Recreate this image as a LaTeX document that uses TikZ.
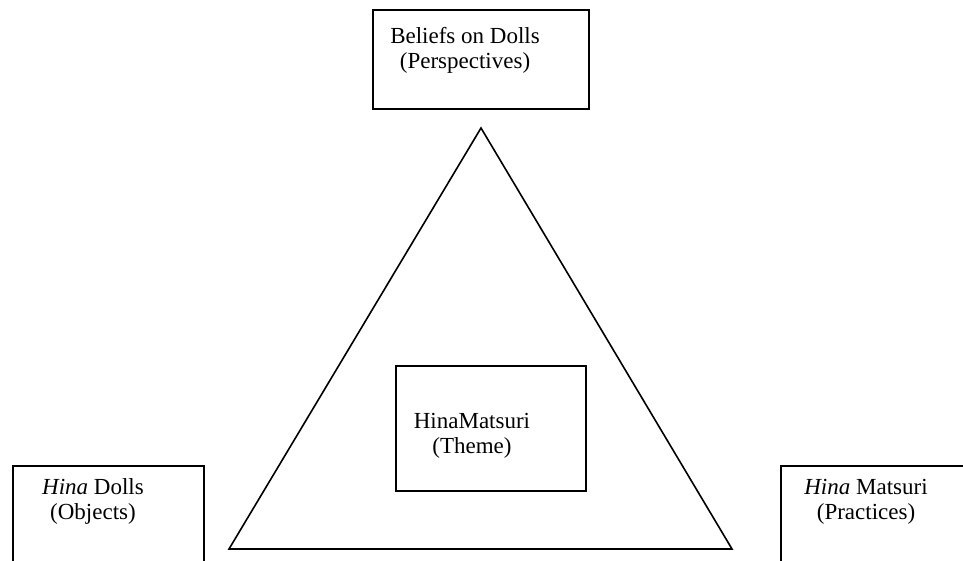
\documentclass[tikz,border=0pt]{standalone}
\usepackage{fontspec}
\setmainfont{Liberation Serif}
\begin{document}
\begin{tikzpicture}[x=1pt, y=-1pt, line width=1.6pt]
  \tikzstyle{box} = [draw, shape=rectangle, anchor=north west, inner sep=0pt]
  \tikzstyle{txt} = [align=center, anchor=north, inner sep=0pt, font=\fontsize{23}{25}\selectfont]
  \useasboundingbox (0,0) rectangle (963,561);
  \clip (0,0) rectangle (963,561);

  % Kaesten
  \node[box, minimum width=216pt, minimum height=99pt] (beliefs) at (372,9) {};
  \node[box, minimum width=190pt, minimum height=125pt] (theme) at (395,365) {};
  \node[box, minimum width=191pt, minimum height=140pt] (dolls) at (12,465) {};
  \node[box, minimum width=220pt, minimum height=140pt] (practices) at (780,465) {};

  % Texte
  \node[txt] (beliefstxt) at (465,27) {Beliefs on Dolls\\(Perspectives)};
  \node[txt] (themetxt) at (472,412) {HinaMatsuri\\(Theme)};
  \node[txt] (dollstxt) at (93,478) {\textit{Hina} Dolls\\(Objects)};
  \node[txt] (practicestxt) at (866,478) {\textit{Hina} Matsuri\\(Practices)};

  % Dreieck
  \coordinate (apex) at (481,128);
  \coordinate (left) at (229,549);
  \coordinate (right) at (732,549);
  \draw (apex) -- (right) -- (left) -- cycle;
\end{tikzpicture}
\end{document}
